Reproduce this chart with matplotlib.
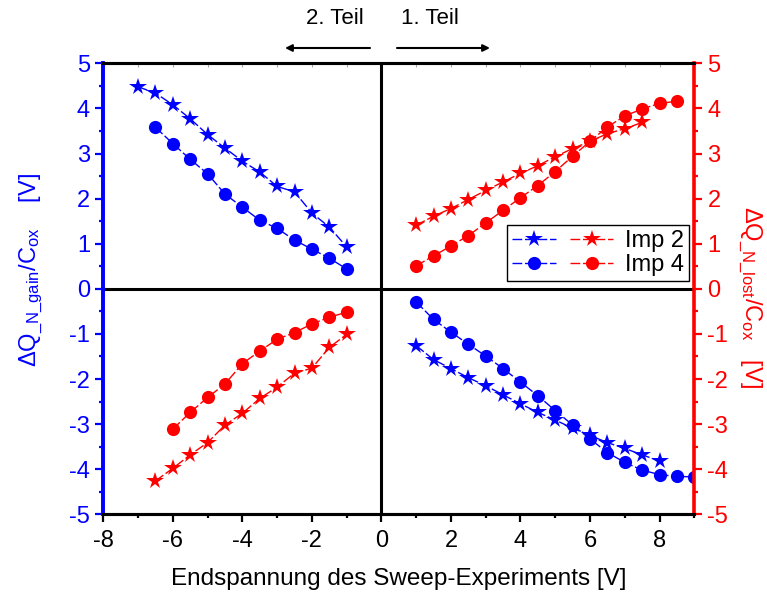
import matplotlib
matplotlib.use("Agg")
import matplotlib.pyplot as plt
from matplotlib.legend_handler import HandlerTuple
from matplotlib.patches import FancyArrowPatch
from matplotlib.ticker import MultipleLocator

plt.rcParams['font.family'] = ['Liberation Sans', 'DejaVu Sans']
plt.rcParams['mathtext.default'] = 'regular'
plt.rcParams['axes.unicode_minus'] = False

# sweep end voltage (V)
x_neg_star = [-7, -6.5, -6, -5.5, -5, -4.5, -4, -3.5, -3, -2.5, -2, -1.5, -1]
x_neg_circ = [-6.5, -6, -5.5, -5, -4.5, -4, -3.5, -3, -2.5, -2, -1.5, -1]
x_neg_red_circ = [-6, -5.5, -5, -4.5, -4, -3.5, -3, -2.5, -2, -1.5, -1]
x_pos_red_star = [1, 1.5, 2, 2.5, 3, 3.5, 4, 4.5, 5, 5.5, 6, 6.5, 7, 7.5]
x_pos_red_circ = [1, 1.5, 2, 2.5, 3, 3.5, 4, 4.5, 5, 5.5, 6, 6.5, 7, 7.5, 8, 8.5]
x_pos_blue_star = [1, 1.5, 2, 2.5, 3, 3.5, 4, 4.5, 5, 5.5, 6, 6.5, 7, 7.5, 8]
x_pos_blue_circ = [1, 1.5, 2, 2.5, 3, 3.5, 4, 4.5, 5, 5.5, 6, 6.5, 7, 7.5, 8, 8.5, 9]

# dQ_N_gain / C_ox (blue)
gain_imp2_neg = [4.48, 4.34, 4.08, 3.77, 3.42, 3.12, 2.83, 2.59, 2.27, 2.15, 1.68, 1.37, 0.93]
gain_imp4_neg = [3.58, 3.22, 2.87, 2.55, 2.10, 1.81, 1.52, 1.34, 1.08, 0.88, 0.68, 0.44]
gain_imp2_pos = [-1.26, -1.57, -1.77, -1.97, -2.15, -2.35, -2.55, -2.74, -2.91, -3.09,
                 -3.25, -3.41, -3.54, -3.68, -3.82]
gain_imp4_pos = [-0.29, -0.68, -0.96, -1.23, -1.49, -1.77, -2.07, -2.37, -2.70, -3.02,
                 -3.33, -3.63, -3.85, -4.02, -4.12, -4.16, -4.17]

# dQ_N_lost / C_ox (red)
lost_imp2_pos = [1.41, 1.61, 1.78, 1.98, 2.18, 2.37, 2.56, 2.73, 2.93, 3.11, 3.27, 3.44, 3.55, 3.69]
lost_imp4_pos = [0.51, 0.73, 0.95, 1.18, 1.46, 1.74, 2.02, 2.29, 2.60, 2.94, 3.27, 3.59,
                 3.83, 3.99, 4.11, 4.16]
lost_imp2_neg = [-4.26, -3.98, -3.68, -3.41, -3.02, -2.76, -2.43, -2.18, -1.87, -1.76, -1.30, -1.01]
lost_imp4_neg = [-3.11, -2.74, -2.41, -2.11, -1.66, -1.38, -1.12, -0.97, -0.78, -0.63, -0.52]

blau = "#0000FF"
rot = "#FF0000"
dash = (7, 2)
fs = 17
ms_star = 13
ms_circ = 9.5

fig = plt.figure(figsize=(7.67, 5.99), dpi=100)
ax = fig.add_axes([0.1347, 0.1414, 0.9052 - 0.1347, 0.8943 - 0.1414])
ax2 = ax.twinx()

ax.axhline(0, color="black", lw=2.2, zorder=1)
ax.axvline(0, color="black", lw=2.2, zorder=1)

kw = dict(lw=1, dashes=dash, markeredgewidth=0)
ax.plot(x_neg_star, gain_imp2_neg, color=blau, marker="*", markersize=ms_star, **kw)
ax.plot(x_neg_circ, gain_imp4_neg, color=blau, marker="o", markersize=ms_circ, **kw)
b2, = ax.plot(x_pos_blue_star, gain_imp2_pos, color=blau, marker="*", markersize=ms_star, **kw)
b4, = ax.plot(x_pos_blue_circ, gain_imp4_pos, color=blau, marker="o", markersize=ms_circ, **kw)

r2, = ax2.plot(x_pos_red_star, lost_imp2_pos, color=rot, marker="*", markersize=ms_star, **kw)
r4, = ax2.plot(x_pos_red_circ, lost_imp4_pos, color=rot, marker="o", markersize=ms_circ, **kw)
ax2.plot(x_neg_star[1:], lost_imp2_neg, color=rot, marker="*", markersize=ms_star, **kw)
ax2.plot(x_neg_red_circ, lost_imp4_neg, color=rot, marker="o", markersize=ms_circ, **kw)

ax.set_xlim(-8, 9)
ax.set_ylim(-5, 5)
ax2.set_ylim(-5, 5)

ax.xaxis.set_major_locator(MultipleLocator(2))
ax.xaxis.set_minor_locator(MultipleLocator(1))
for a in (ax, ax2):
    a.yaxis.set_major_locator(MultipleLocator(1))
    a.yaxis.set_minor_locator(MultipleLocator(0.5))

ax.tick_params(axis="x", which="major", direction="out", length=6, width=1.6,
               labelsize=fs, colors="black", top=False, pad=5)
ax.tick_params(axis="x", which="minor", direction="out", length=3, width=1.6, top=False)
ax.tick_params(axis="y", which="major", direction="out", length=6, width=1.6,
               labelsize=fs, colors=blau)
ax.tick_params(axis="y", which="minor", direction="out", length=3, width=1.6, colors=blau)
ax2.tick_params(axis="y", which="major", direction="out", length=6, width=1.6,
                labelsize=fs, colors=rot)
ax2.tick_params(axis="y", which="minor", direction="out", length=3, width=1.6, colors=rot)

# faint ticks on the top edge
top = ax.secondary_xaxis("top")
top.xaxis.set_major_locator(MultipleLocator(1))
top.tick_params(direction="in", length=3, width=0.8, color="#aaaaaa", labeltop=False)
top.spines["top"].set_visible(False)

for a in (ax, ax2):
    a.spines["top"].set_linewidth(2.2)
    a.spines["bottom"].set_linewidth(2.2)
ax2.spines["left"].set_color(blau)
ax2.spines["left"].set_linewidth(2.6)
ax2.spines["right"].set_color(rot)
ax2.spines["right"].set_linewidth(2.6)
ax.spines["left"].set_color(blau)
ax.spines["left"].set_linewidth(2.6)
ax.spines["right"].set_visible(False)

ax.set_xlabel("Endspannung des Sweep-Experiments [V]", fontsize=17.5, labelpad=12)
ax.set_ylabel(r"ΔQ$_{\_N\_gain}$/C$_{ox}$    [V]", fontsize=17, color=blau)
ax.yaxis.set_label_coords(-0.098, 0.542)
ax2.set_ylabel(r"ΔQ$_{\_N\_lost}$/C$_{ox}$   [V]", fontsize=17, color=rot, rotation=270)
ax2.yaxis.set_label_coords(1.118, 0.482)

leg = ax2.legend([(b2, r2), (b4, r4)], ["Imp 2", "Imp 4"],
                 handler_map={tuple: HandlerTuple(ndivide=None, pad=0.6)},
                 numpoints=1, handlelength=4.3, handletextpad=0.5, labelspacing=0.1,
                 borderpad=0.2, loc="upper right", bbox_to_anchor=(0.991, 0.641),
                 borderaxespad=0, fancybox=False, fontsize=fs, framealpha=1)
leg.get_frame().set_edgecolor("black")
leg.get_frame().set_linewidth(1.0)

# part markers above the plot
fig.text(335 / 767, 1 - 19 / 599, "2. Teil", fontsize=16, ha="center", va="center")
fig.text(430 / 767, 1 - 19 / 599, "1. Teil", fontsize=16, ha="center", va="center")
arrow = dict(arrowstyle="-|>", color="black", lw=1.5, mutation_scale=10,
             shrinkA=0, shrinkB=0)
fig.add_artist(FancyArrowPatch((370 / 767, 1 - 48 / 599), (285 / 767, 1 - 48 / 599),
                               transform=fig.transFigure, **arrow))
fig.add_artist(FancyArrowPatch((397 / 767, 1 - 48 / 599), (490 / 767, 1 - 48 / 599),
                               transform=fig.transFigure, **arrow))

fig.savefig("out.png", dpi=100)
